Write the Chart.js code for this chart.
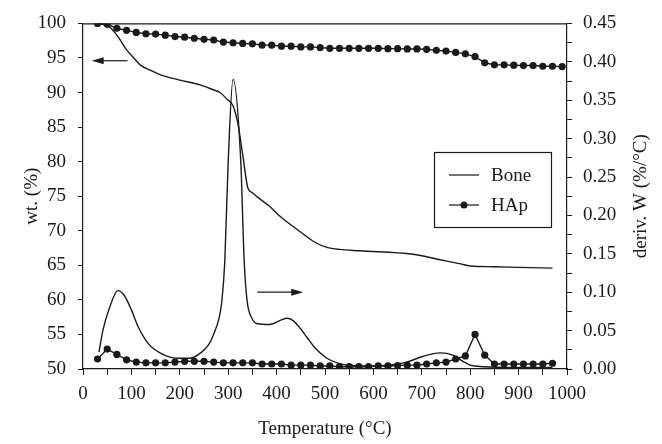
<!DOCTYPE html>
<html>
<head>
<meta charset="utf-8">
<script src="https://cdn.jsdelivr.net/npm/chart.js@4.4.1/dist/chart.umd.min.js"></script>
<style>
  html, body { margin: 0; padding: 0; background: #fff; }
  #wrap { width: 662px; height: 444px; }
</style>
</head>
<body>
<div id="wrap"><canvas id="tgaChart" width="662" height="444"></canvas></div>
<script>
// Bone, weight curve (left axis)
const boneTgaTemp = [30, 45, 56, 70, 91, 105, 118, 140, 159, 200, 242, 269, 283, 298, 310, 320, 330, 341, 350, 360, 386, 407, 448, 480, 504, 530, 572, 682, 738, 780, 800, 850, 900, 970];
const boneTgaWt = [100, 99.8, 99.4, 98.3, 96.1, 95.0, 94.0, 93.2, 92.6, 91.8, 91.1, 90.4, 90.0, 89.0, 88.1, 85.5, 81.0, 76.1, 75.5, 74.9, 73.5, 72.1, 69.9, 68.3, 67.6, 67.3, 67.1, 66.6, 65.8, 65.2, 64.9, 64.8, 64.7, 64.6];

// Bone, derivative curve (right axis)
const boneDtgTemp = [33, 41, 55, 72, 85, 100, 114, 135, 159, 194, 221, 245, 260, 269, 281, 287, 293, 300, 310, 326, 333, 339, 349, 360, 386, 410, 421, 434, 450, 463, 480, 504, 525, 545, 600, 669, 700, 738, 764, 785, 800, 826, 900, 970];
const boneDtg = [0.022, 0.05, 0.08, 0.102, 0.096, 0.077, 0.055, 0.033, 0.021, 0.014, 0.014, 0.022, 0.032, 0.044, 0.066, 0.089, 0.141, 0.270, 0.377, 0.270, 0.141, 0.089, 0.066, 0.059, 0.058, 0.064, 0.066, 0.063, 0.052, 0.041, 0.027, 0.014, 0.008, 0.005, 0.004, 0.009, 0.016, 0.021, 0.018, 0.010, 0.005, 0.003, 0.002, 0.002];

// HAp, sampled every 20 degC
const hapTgaTemp = [30, 50, 70, 90, 110, 130, 150, 170, 190, 210, 230, 250, 270, 290, 310, 330, 350, 370, 390, 410, 430, 450, 470, 490, 510, 530, 550, 570, 590, 610, 630, 650, 670, 690, 710, 730, 750, 770, 790, 810, 830, 850, 870, 890, 910, 930, 950, 970, 990];
const hapTgaWt = [100, 99.86, 99.3, 99.0, 98.7, 98.5, 98.45, 98.3, 98.1, 98.0, 97.85, 97.7, 97.6, 97.3, 97.2, 97.1, 97.05, 96.85, 96.85, 96.7, 96.7, 96.6, 96.6, 96.5, 96.4, 96.4, 96.4, 96.4, 96.4, 96.4, 96.35, 96.35, 96.3, 96.3, 96.25, 96.1, 96.0, 95.8, 95.6, 95.2, 94.3, 94.0, 94.0, 93.95, 93.9, 93.9, 93.8, 93.8, 93.75];
const hapDtgTemp = [30, 50, 70, 90, 110, 130, 150, 170, 190, 210, 230, 250, 270, 290, 310, 330, 350, 370, 390, 410, 430, 450, 470, 490, 510, 530, 550, 570, 590, 610, 630, 650, 670, 690, 710, 730, 750, 770, 790, 810, 830, 850, 870, 890, 910, 930, 950, 970];
const hapDtg = [0.013, 0.026, 0.019, 0.012, 0.009, 0.008, 0.008, 0.008, 0.009, 0.010, 0.010, 0.010, 0.009, 0.008, 0.008, 0.008, 0.008, 0.0065, 0.0065, 0.0065, 0.005, 0.005, 0.005, 0.004, 0.004, 0.003, 0.003, 0.003, 0.003, 0.004, 0.004, 0.0045, 0.005, 0.005, 0.0065, 0.008, 0.009, 0.013, 0.017, 0.045, 0.018, 0.0065, 0.0065, 0.0065, 0.0065, 0.0065, 0.0065, 0.0075];

// arrows: [fromT, toT, value, axis]
const arrowLeft = [92, 18, 94.6, 'y'];
const arrowRight = [360, 455, 0.10, 'y2'];

const legendItems = ['Bone', 'HAp'];
const rightTitle = 'deriv. W (%/°C)';

function pairs(xs, ys) { return xs.map((x, i) => ({ x: x, y: ys[i] })); }

Chart.defaults.font.family = '"Liberation Serif", "DejaVu Serif", serif';
Chart.defaults.font.size = 19;
Chart.defaults.color = '#222';

const ink = '#1a1a1a';

const overlay = {
  id: 'overlay',
  afterDraw(chart) {
    const c = chart.ctx, a = chart.chartArea;
    c.save();
    // top frame line
    c.strokeStyle = ink; c.lineWidth = 1.2;
    c.beginPath(); c.moveTo(a.left, a.top + 0.5); c.lineTo(a.right, a.top + 0.5); c.stroke();

    // arrows
    [arrowLeft, arrowRight].forEach(ar => {
      const x1 = chart.scales.x.getPixelForValue(ar[0]);
      const x2 = chart.scales.x.getPixelForValue(ar[1]);
      const y = chart.scales[ar[3]].getPixelForValue(ar[2]);
      const dir = x2 > x1 ? 1 : -1;
      c.lineWidth = 1.2;
      c.beginPath(); c.moveTo(x1, y); c.lineTo(x2 - dir * 8, y); c.stroke();
      c.fillStyle = ink;
      c.beginPath(); c.moveTo(x2, y); c.lineTo(x2 - dir * 12, y - 3.5); c.lineTo(x2 - dir * 12, y + 3.5); c.closePath(); c.fill();
    });

    // legend box
    const bx = 434, by = 152, bw = 117, bh = 75;
    c.lineWidth = 1.2;
    c.strokeRect(bx + 0.5, by + 0.5, bw, bh);
    c.font = '19px "Liberation Serif", serif';
    c.textBaseline = 'middle';
    c.fillStyle = ink;
    legendItems.forEach((name, i) => {
      const yy = by + 23 + i * 30;
      c.beginPath(); c.moveTo(bx + 15, yy); c.lineTo(bx + 45, yy); c.stroke();
      if (i === 1) { c.beginPath(); c.arc(bx + 30, yy, 3.5, 0, Math.PI * 2); c.fill(); }
      c.fillText(name, bx + 57, yy + 1);
    });

    // right axis title, reading bottom to top like the left one
    c.translate(641, (a.top + a.bottom) / 2);
    c.rotate(-Math.PI / 2);
    c.textAlign = 'center';
    c.fillText(rightTitle, 0, 0);
    c.restore();
  }
};

const lineStyle = { borderColor: ink, borderWidth: 1.4, fill: false, cubicInterpolationMode: 'monotone' };
const dotStyle = { borderColor: ink, borderWidth: 1.4, pointRadius: 3.6, pointBackgroundColor: ink, pointBorderWidth: 0, tension: 0 };

new Chart(document.getElementById('tgaChart'), {
  type: 'line',
  data: {
    datasets: [
      Object.assign({ label: 'Bone', data: pairs(boneTgaTemp, boneTgaWt), yAxisID: 'y', pointRadius: 0 }, lineStyle),
      Object.assign({ label: 'Bone deriv', data: pairs(boneDtgTemp, boneDtg), yAxisID: 'y2', pointRadius: 0 }, lineStyle),
      Object.assign({ label: 'HAp', data: pairs(hapTgaTemp, hapTgaWt), yAxisID: 'y' }, dotStyle),
      Object.assign({ label: 'HAp deriv', data: pairs(hapDtgTemp, hapDtg), yAxisID: 'y2' }, dotStyle)
    ]
  },
  options: {
    responsive: false,
    animation: false,
    layout: { padding: { top: 20, left: 0, right: 0, bottom: 0 } },
    plugins: { legend: { display: false }, tooltip: { enabled: false } },
    scales: {
      x: {
        type: 'linear', min: 0, max: 1000,
        grid: { drawOnChartArea: false, tickLength: 6, color: ink, tickColor: ink },
        border: { color: ink, width: 1.2 },
        ticks: { stepSize: 50, autoSkip: false, maxRotation: 0, padding: 8, color: ink,
          callback: v => (v % 100 === 0 ? String(v) : '') },
        title: { display: true, text: 'Temperature (°C)', color: ink, padding: { top: 0, bottom: 4 } },
        afterFit: s => { s.height = 75; }
      },
      y: {
        position: 'left', min: 50, max: 100,
        grid: { drawOnChartArea: false, tickLength: 5, color: ink, tickColor: ink },
        border: { color: ink, width: 1.2 },
        ticks: { stepSize: 5, autoSkip: false, padding: 12, color: ink },
        title: { display: true, text: 'wt. (%)', color: ink, padding: { top: 21, bottom: 0 } },
        afterFit: s => { s.width = 83; }
      },
      y2: {
        position: 'right', min: 0, max: 0.45,
        grid: { drawOnChartArea: false, tickLength: 5, color: ink, tickColor: ink },
        border: { color: ink, width: 1.2 },
        ticks: { stepSize: 0.025, autoSkip: false, padding: 11, color: ink,
          callback: v => (Math.round(v * 1000) % 50 === 0 ? v.toFixed(2) : '') },
        afterFit: s => { s.width = 95; }
      }
    }
  },
  plugins: [overlay]
});
</script>
</body>
</html>
